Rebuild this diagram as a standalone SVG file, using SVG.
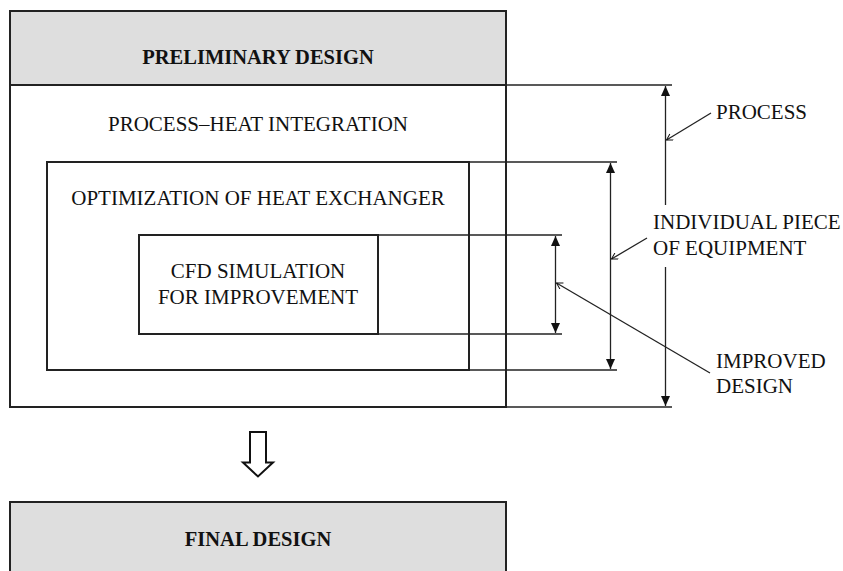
<svg xmlns="http://www.w3.org/2000/svg" width="843" height="571" viewBox="0 0 843 571">
<defs>
<style>
.box{fill:none;stroke:#222;stroke-width:2}
.hdr{fill:#dedede;stroke:#222;stroke-width:2}
.dim{stroke:#222;stroke-width:1.3;fill:none}
.t{font-family:"Liberation Serif","Times New Roman",serif;font-size:21px;fill:#111}
.b{font-weight:bold;font-size:20.5px}
.c{text-anchor:middle}
</style>
<marker id="ah" viewBox="0 0 10 14" refX="10" refY="7" markerWidth="10" markerHeight="14" markerUnits="userSpaceOnUse" orient="auto">
<path d="M0,2.5 L10,7 L0,11.5 Z" fill="#111"/>
</marker>
<marker id="tick" viewBox="0 0 8 8" refX="7" refY="4" markerWidth="8" markerHeight="8" markerUnits="userSpaceOnUse" orient="auto">
<path d="M1,0.5 L7,4 L1,7.5" fill="none" stroke="#111" stroke-width="1"/>
</marker>
</defs>
<rect width="843" height="571" fill="#fff"/>
<g id="preliminary">
<rect class="hdr" x="10" y="11" width="496" height="74"/>
<text class="t b c" x="258" y="64">PRELIMINARY DESIGN</text>
</g>
<g id="process">
<rect class="box" x="10" y="85" width="496" height="322"/>
<text class="t c" x="258" y="131">PROCESS–HEAT INTEGRATION</text>
</g>
<g id="optimization">
<rect class="box" x="47" y="162" width="422" height="208"/>
<text class="t c" x="258" y="205">OPTIMIZATION OF HEAT EXCHANGER</text>
</g>
<g id="cfd">
<rect class="box" x="139" y="235" width="239" height="99"/>
<text class="t c" x="258" y="278">CFD SIMULATION</text>
<text class="t c" x="258" y="304">FOR IMPROVEMENT</text>
</g>
<g id="final">
<rect class="hdr" x="10" y="502" width="496" height="80"/>
<text class="t b c" x="258" y="546">FINAL DESIGN</text>
</g>
<g id="label-process">
<text class="t" x="716" y="119">PROCESS</text>
</g>
<g id="label-equipment">
<text class="t" x="653" y="229">INDIVIDUAL PIECE</text>
<text class="t" x="653" y="255">OF EQUIPMENT</text>
</g>
<g id="label-improved">
<text class="t" x="716" y="368">IMPROVED</text>
<text class="t" x="716" y="393">DESIGN</text>
</g>
<g id="connectors">
<line class="dim" x1="506" y1="85" x2="672" y2="85"/>
<line class="dim" x1="506" y1="407" x2="672" y2="407"/>
<line class="dim" x1="665.5" y1="205" x2="665.5" y2="86" marker-end="url(#ah)"/>
<line class="dim" x1="665.5" y1="267" x2="665.5" y2="406" marker-end="url(#ah)"/>
<line class="dim" x1="469" y1="162" x2="617" y2="162"/>
<line class="dim" x1="469" y1="370" x2="617" y2="370"/>
<line class="dim" x1="610.5" y1="266" x2="610.5" y2="163" marker-end="url(#ah)"/>
<line class="dim" x1="610.5" y1="266" x2="610.5" y2="369" marker-end="url(#ah)"/>
<line class="dim" x1="378" y1="235" x2="562" y2="235"/>
<line class="dim" x1="378" y1="334" x2="562" y2="334"/>
<line class="dim" x1="555.5" y1="285" x2="555.5" y2="236" marker-end="url(#ah)"/>
<line class="dim" x1="555.5" y1="285" x2="555.5" y2="333" marker-end="url(#ah)"/>
<line class="dim" x1="711" y1="113" x2="666.5" y2="140" marker-end="url(#tick)"/>
<line class="dim" x1="647" y1="238" x2="611.5" y2="259" marker-end="url(#tick)"/>
<line class="dim" x1="710" y1="373" x2="556.5" y2="283" marker-end="url(#tick)"/>
<path d="M250,432 H266 V462.5 H273 L258,476.5 L243,462.5 H250 Z" fill="#fff" stroke="#111" stroke-width="2" stroke-linejoin="miter"/>
</g>
</svg>
